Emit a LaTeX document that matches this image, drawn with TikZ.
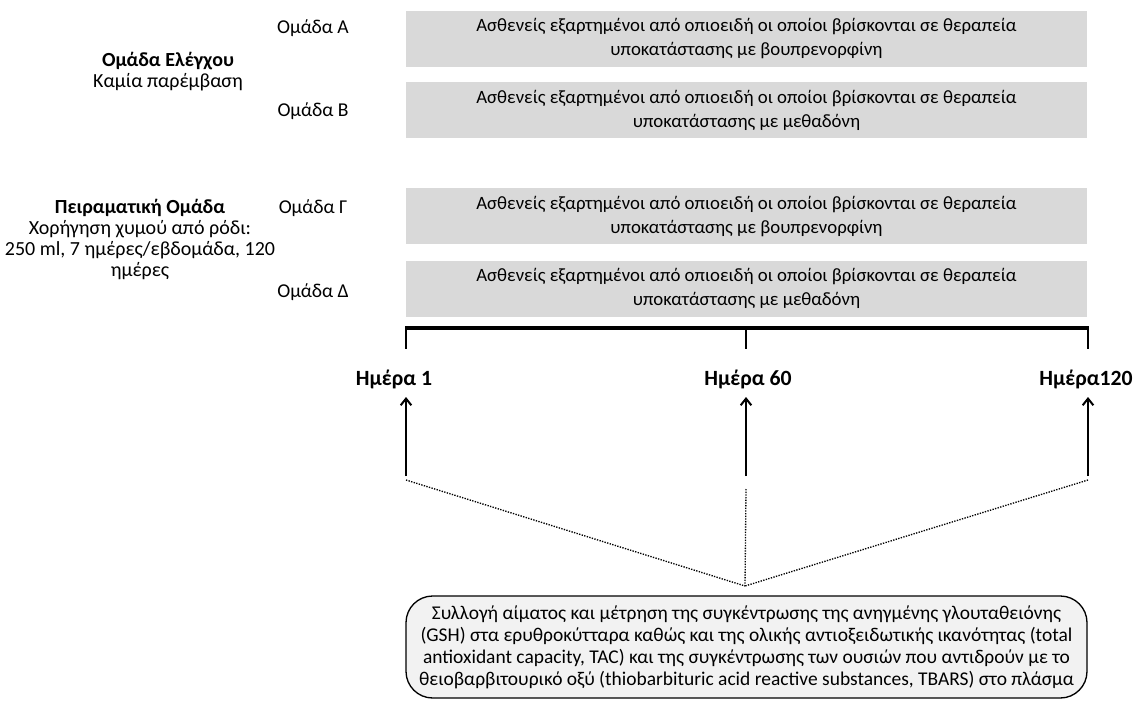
\documentclass[tikz,border=0pt]{standalone}
\usepackage{fontspec}
\setmainfont{Carlito}
\usetikzlibrary{arrows.meta}
\definecolor{boxgray}{RGB}{217,217,217}
\definecolor{notegray}{RGB}{242,242,242}
\begin{document}
\begin{tikzpicture}[x=0.75pt, y=-0.75pt,
  every node/.style={font=\fontsize{15}{15.75}\selectfont, inner sep=0pt},
  grplbl/.style={font=\fontsize{14.7}{15.75}\selectfont},
  groupbox/.style={fill=boxgray, minimum width=510.75pt, minimum height=42pt,
    align=center, font=\fontsize{14.1}{18}\selectfont},
  daylbl/.style={font=\fontsize{16.3}{16}\selectfont\bfseries},
  notebox/.style={draw, line width=1pt, fill=notegray, rounded corners=20pt,
    minimum width=510.75pt, minimum height=76.5pt, align=center,
    font=\fontsize{14.6}{16.5}\selectfont}]
  \useasboundingbox (0, 0) rectangle (1134, 702);
  % left side labels
  \node[align=center] (ctrl) at (168, 72) {\textbf{Ομάδα Ελέγχου}\\Καμία παρέμβαση};
  \node[align=center] (expr) at (140, 239) {\textbf{Πειραματική Ομάδα}\\Χορήγηση χυμού από ρόδι:\\250 ml, 7 ημέρες/εβδομάδα, 120\\ημέρες};
  \node[grplbl] (grpA) at (313, 28) {Ομάδα Α};
  \node[grplbl] (grpB) at (313, 111) {Ομάδα Β};
  \node[grplbl] (grpC) at (313, 208) {Ομάδα Γ};
  \node[grplbl] (grpD) at (313, 292) {Ομάδα Δ};
  % grey boxes
  \node[groupbox] (boxA) at (746.5, 39) {Ασθενείς εξαρτημένοι από οπιοειδή οι οποίοι βρίσκονται σε θεραπεία\\υποκατάστασης με βουπρενορφίνη};
  \node[groupbox] (boxB) at (746.5, 110.5) {Ασθενείς εξαρτημένοι από οπιοειδή οι οποίοι βρίσκονται σε θεραπεία\\υποκατάστασης με μεθαδόνη};
  \node[groupbox] (boxC) at (746.5, 216.5) {Ασθενείς εξαρτημένοι από οπιοειδή οι οποίοι βρίσκονται σε θεραπεία\\υποκατάστασης με βουπρενορφίνη};
  \node[groupbox] (boxD) at (746.5, 288.5) {Ασθενείς εξαρτημένοι από οπιοειδή οι οποίοι βρίσκονται σε θεραπεία\\υποκατάστασης με μεθαδόνη};
  % time line
  \draw[line width=3pt] (405, 328) -- (1089, 328);
  \draw[line width=1.5pt] (406, 328) -- (406, 349);
  \draw[line width=1.5pt] (746, 328) -- (746, 349);
  \draw[line width=1.5pt] (1088, 328) -- (1088, 349);
  \node[daylbl] (day1) at (394, 379) {Ημέρα 1};
  \node[daylbl] (day60) at (748, 379) {Ημέρα 60};
  \node[daylbl] (day120) at (1086, 379) {Ημέρα120};
  % arrows
  \coordinate (up1) at (406, 397);
  \coordinate (up60) at (746, 397);
  \coordinate (up120) at (1088, 397);
  \coordinate (foot1) at (406, 476);
  \coordinate (foot60) at (746, 476);
  \coordinate (foot120) at (1088, 476);
  \draw[line width=1.5pt, -{Straight Barb[length=5pt, width=8pt]}] (foot1) -- (up1);
  \draw[line width=1.5pt, -{Straight Barb[length=5pt, width=8pt]}] (foot60) -- (up60);
  \draw[line width=1.5pt, -{Straight Barb[length=5pt, width=8pt]}] (foot120) -- (up120);
  % dotted lines
  \coordinate (meet) at (745, 586);
  \draw[densely dotted, line width=1pt] (406, 480) -- (meet);
  \draw[densely dotted, line width=1pt] (746, 489) -- (meet);
  \draw[densely dotted, line width=1pt] (1088, 480) -- (meet);
  % bottom note
  \node[notebox] (note) at (746.5, 647) {Συλλογή αίματος και μέτρηση της συγκέντρωσης της ανηγμένης γλουταθειόνης\\(GSH) στα ερυθροκύτταρα καθώς και της ολικής αντιοξειδωτικής ικανότητας (total\\antioxidant capacity, TAC) και της συγκέντρωσης των ουσιών που αντιδρούν με το\\θειοβαρβιτουρικό οξύ (thiobarbituric acid reactive substances, TBARS) στο πλάσμα};
\end{tikzpicture}
\end{document}
